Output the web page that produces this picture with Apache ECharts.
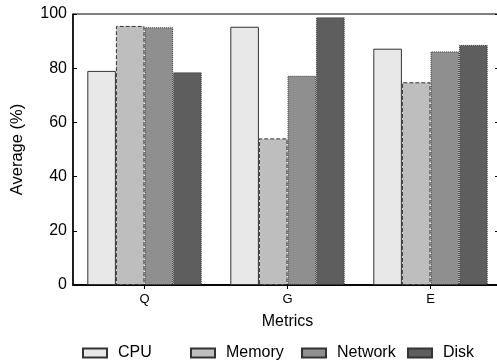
<!DOCTYPE html>
<html><head><meta charset="utf-8">
<script src="https://cdn.jsdelivr.net/npm/echarts@6/dist/echarts.min.js"></script>
<style>html,body{margin:0;padding:0;background:#fff}#c{width:497px;height:362px}</style>
</head><body><div id="c"></div>
<script>
var categories = ['Q', 'G', 'E'];
var cpu = [79, 95.3, 87.2];
var memory = [95.6, 54.1, 74.8];
var network = [95.1, 77.2, 86.2];
var disk = [78.5, 98.8, 88.6];
var yTicks = [0, 20, 40, 60, 80, 100];

var font = 'Liberation Sans, Arial, sans-serif';
var chart = echarts.init(document.getElementById('c'), null, {renderer: 'canvas'});
function ser(name, data, color, btype) {
  return {
    name: name, type: 'bar', data: data, barGap: 0, barCategoryGap: '20%',
    itemStyle: {color: color, borderColor: '#333', borderWidth: 1, borderType: btype},
    emphasis: {disabled: true}
  };
}
function leg(name, left) {
  return {
    data: [name], left: left, top: 345, padding: 0, itemWidth: 24, itemHeight: 9, icon: 'rect',
    textStyle: {fontFamily: font, fontSize: 16, color: '#000', padding: [0, 0, 0, 6]},
    selectedMode: false
  };
}
chart.setOption({
  animation: false,
  grid: {left: 73, top: 14, height: 271, width: 429, outerBoundsMode: 'none', containLabel: false,
    show: true, borderColor: '#000', borderWidth: 1, backgroundColor: 'transparent'},
  legend: [leg('CPU', 82), leg('Memory', 190), leg('Network', 301), leg('Disk', 407)],
  xAxis: [{
    type: 'category', data: categories,
    name: 'Metrics', nameLocation: 'middle', nameGap: 29,
    nameTextStyle: {fontFamily: font, fontSize: 16, color: '#000'},
    axisLine: {lineStyle: {color: '#000', width: 1.5}},
    axisTick: {show: false},
    axisLabel: {fontFamily: font, fontSize: 13, color: '#000', margin: 8}
  }, {
    type: 'category', data: categories, position: 'top',
    axisLine: {lineStyle: {color: '#000', width: 1.5}},
    axisTick: {show: true, inside: true, alignWithLabel: true, length: 4, lineStyle: {color: '#000'}},
    axisLabel: {show: false}
  }],
  yAxis: [{
    type: 'value', min: 0, max: 100, interval: 20,
    name: 'Average (%)', nameLocation: 'middle', nameGap: 47,
    nameTextStyle: {fontFamily: font, fontSize: 16.5, color: '#000'},
    axisLine: {show: true, lineStyle: {color: '#000', width: 1.5}},
    axisTick: {show: true, inside: true, length: 4, lineStyle: {color: '#000'}},
    splitLine: {show: false},
    axisLabel: {fontFamily: font, fontSize: 16, color: '#000', margin: 6,
      formatter: function (v) { return yTicks.indexOf(v) >= 0 ? String(v) : ''; }}
  }, {
    type: 'value', min: 0, max: 100, interval: 20, position: 'right',
    axisLine: {show: true, lineStyle: {color: '#000'}},
    axisTick: {show: true, inside: true, length: 7, lineStyle: {color: '#000'}},
    splitLine: {show: false}, axisLabel: {show: false}
  }],
  series: [
    ser('CPU', cpu, '#e8e8e8', 'solid'),
    ser('Memory', memory, '#bebebe', 'dashed'),
    ser('Network', network, '#8f8f8f', 'dotted'),
    ser('Disk', disk, '#5e5e5e', 'dotted')
  ]
});
</script></body></html>
